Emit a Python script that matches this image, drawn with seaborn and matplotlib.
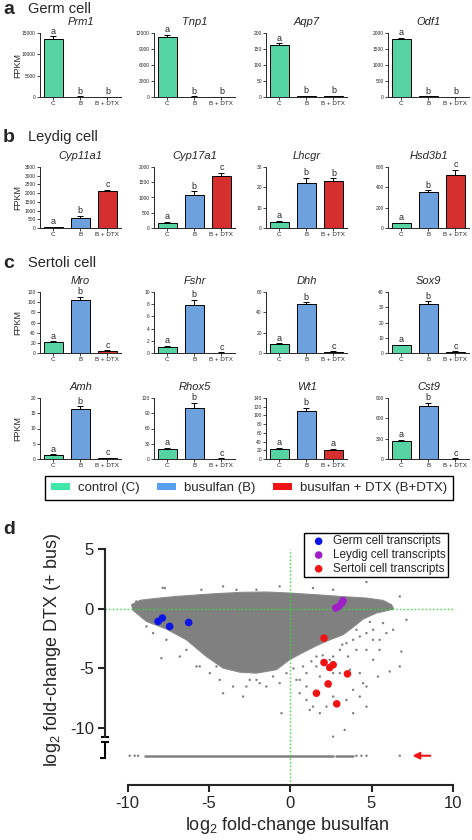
import numpy as np
import pandas as pd
import seaborn as sns
import matplotlib.pyplot as plt
from matplotlib.patches import Patch

# ---- bar panels (a-c) ----
groups = ['C', 'B', 'B + DTX']
group_colors = ['#40E8A8', '#5AA0F0', '#F01414']
legend_labels = ['control (C)', 'busulfan (B)', 'busulfan + DTX (B+DTX)']

genes = ['Prm1', 'Tnp1', 'Aqp7', 'Odf1',
         'Cyp11a1', 'Cyp17a1', 'Lhcgr', 'Hsd3b1',
         'Mro', 'Fshr', 'Dhh', 'Sox9',
         'Amh', 'Rhox5', 'Wt1', 'Cst9']
fpkm_mean = [[13600, 100, 30], [11200, 80, 40], [163, 3, 2], [1800, 20, 10],
             [60, 600, 2100], [160, 1070, 1700], [2.8, 22, 23.2], [45, 350, 520],
             [22, 104, 4], [1.05, 7.8, 0.05], [9, 48.5, 1], [5, 32, 0.8],
             [1.4, 16.5, 0.3], [20, 101, 0.8], [24, 110, 21], [265, 775, 5]]
fpkm_sem = [[600, 20, 10], [400, 20, 10], [5, 1, 1], [50, 5, 3],
            [20, 90, 100], [40, 130, 100], [0.6, 2.8, 1.3], [8, 20, 55],
            [1, 7, 1.5], [0.1, 0.9, 0.05], [0.6, 1.5, 0.5], [0.5, 2, 0.4],
            [0.2, 0.8, 0.1], [1.5, 10, 0.5], [2, 7, 2.5], [15, 50, 5]]
sig_letters = [['a', 'b', 'b'], ['a', 'b', 'b'], ['a', 'b', 'b'], ['a', 'b', 'b'],
               ['a', 'b', 'c'], ['a', 'b', 'c'], ['a', 'b', 'b'], ['a', 'b', 'c'],
               ['a', 'b', 'c'], ['a', 'b', 'c'], ['a', 'b', 'c'], ['a', 'b', 'c'],
               ['a', 'b', 'c'], ['a', 'b', 'c'], ['a', 'b', 'a'], ['a', 'b', 'c']]
y_max = [15000, 12000, 200, 2000, 3500, 2000, 30, 600,
         120, 10, 60, 40, 20, 120, 140, 900]
y_step = [5000, 3000, 50, 500, 500, 500, 10, 200,
          20, 2, 20, 10, 5, 30, 20, 300]
section_titles = [('a', 'Germ cell'), ('b', 'Leydig cell'), ('c', 'Sertoli cell')]

# ---- scatter panel (d) ----
germ_x = [-8.13, -7.87, -7.42, -6.25]
germ_y = [-1.06, -0.78, -1.48, -1.15]
leydig_x = [2.8, 3.0, 3.17, 3.25]
leydig_y = [0.06, 0.2, 0.47, 0.67]
sertoli_x = [2.08, 2.08, 2.43, 2.64, 3.52, 2.33, 1.61, 2.86]
sertoli_y = [-2.46, -4.5, -4.92, -4.69, -5.45, -6.29, -7.07, -7.96]

# outline of the dense bulk of transcripts
cloud_x = [-9.77, -9.26, -8.65, -7.0, -4.95, -3.1, -1.47, 0.01, 1.61, 3.05, 4.69, 5.71,
           6.23, 6.37, 5.30, 4.48, 3.87, 3.25, 2.43, 1.61, 0.79, 0.01, -0.85, -2.08,
           -3.1, -4.13, -5.16, -6.39, -7.62, -8.85, -9.67]
cloud_y = [0.34, 0.70, 0.81, 1.03, 1.23, 1.37, 1.40, 1.31, 1.17, 1.03, 0.89, 0.70,
           0.34, -0.03, -0.36, -0.87, -1.54, -2.18, -2.6, -3.1, -3.66, -4.22, -5.1, -5.39,
           -5.31, -4.97, -4.0, -2.6, -1.70, -1.06, -0.14]
# scattered transcripts outside the bulk
other_x = [-7.72, -5.47, -4.13, -3.31, -0.65, 4.69, 6.74, -9.47, -2.08, 1.40, 2.64,
           7.15, 6.33, 6.84, 6.74, 6.12, 5.40, 5.5, 5.92, 5.71, 5.1, 4.69, 5.1, 4.48,
           4.69, 4.28, 3.87, 3.87, 3.35, 2.64, 2.23, 1.82, 1.40, 1.0, 0.58, 0.38, -0.54,
           -1.06, -1.47, -2.08, -2.90, -3.52, -4.13, -4.95, -5.77, -6.8, -7.93, 3.05,
           3.56, 4.07, 2.64, 1.61, 1.0, 2.43, 1.82, 0.79, -0.23, 4.69, 3.46, 2.64, 1.2,
           -8.85, -8.44, -7.62, -6.39, -4.54, -2.49, -7.85,
           3.87, 4.28, 3.46, 4.69, 4.07, 3.05, 2.43, 1.61, 1.0, 2.64, 3.67, 4.28, 5.1,
           5.5, 0.58, -0.65, -1.88, -2.7, -4.34, -5.57, 4.9, 3.2, 2.0, 1.3, 0.2]
other_y = [1.73, 1.59, 1.87, 1.59, 1.87, 2.24, 1.03, 0.61, 1.59, 1.73, 1.59,
           -0.92, -1.76, -3.58, -4.83, -5.25, -5.67, -2.6, -2.04, -1.2, -1.76, -3.44,
           -4.27, -6.23, -8.19, -7.35, -6.79, -8.74, -10.14, -10.7, -8.19, -8.74, -8.19,
           -7.63, -7.07, -5.95, -8.74, -5.67, -6.51, -5.95, -7.35, -6.51, -7.07, -5.39,
           -4.83, -4.0, -4.14, -5.39, -4.0, -3.44, -4.0, -4.0, -6.51, -6.51, -5.67,
           -4.83, -5.39, -6.51, -7.63, -7.35, -8.47, -1.48, -2.04, -2.6, -3.44, -4.83,
           -5.95, 1.75,
           -2.6, -2.32, -2.88, -2.04, -1.76, -3.44, -4.27, -4.83, -5.39, -5.39, -5.11,
           -5.39, -2.6, -3.44, -5.95, -6.23, -6.23, -6.51, -5.95, -4.83, -1.1, -3.0,
           -3.9, -4.4, -5.0]
# transcripts undetected after DTX (plotted on the broken floor)
floor_y = -12.3
floor_runs_start = [-8.95, 2.84]
floor_runs_end = [2.64, 3.87]
floor_dots_x = [-9.88, -9.57, -9.36, 4.07, 4.38, 4.69, 6.74]
arrow_from_x, arrow_to_x = 8.79, 7.35

W, H = 472, 840
sns.set_style('ticks')
plt.rcParams['font.family'] = ['Liberation Sans', 'DejaVu Sans']
plt.rcParams['axes.unicode_minus'] = False

fig = plt.figure(figsize=(W / 100, H / 100), dpi=100)

row_tops = [33, 167, 292, 398]
row_bottoms = [97, 228, 353, 459]
col_lefts = [40, 154, 266, 388]
ax_w = 81

for i, gene in enumerate(genes):
    r, c = divmod(i, 4)
    ax = fig.add_axes([col_lefts[c] / W, 1 - row_bottoms[r] / H,
                       ax_w / W, (row_bottoms[r] - row_tops[r]) / H])
    df = pd.DataFrame({'group': groups, 'fpkm': fpkm_mean[i]})
    sns.barplot(data=df, x='group', y='fpkm', hue='group', palette=group_colors,
                legend=False, edgecolor='black', linewidth=0.7, width=0.7, ax=ax)
    ax.errorbar(range(3), fpkm_mean[i], yerr=[[0, 0, 0], fpkm_sem[i]], fmt='none',
                ecolor='black', elinewidth=0.7, capsize=2.5, capthick=0.7)
    for j in range(3):
        top = fpkm_mean[i][j] + fpkm_sem[i][j]
        ax.text(j, top + 0.01 * y_max[i], sig_letters[i][j], ha='center', va='bottom',
                fontsize=6.5)
    ax.set_xlim(-0.48, 2.5)
    ax.set_ylim(0, y_max[i])
    ax.set_yticks(np.arange(0, y_max[i] + y_step[i] / 2, y_step[i]))
    ax.set_title(gene, style='italic', fontsize=8, pad=5.5)
    ax.set_xlabel('')
    ax.set_ylabel('FPKM' if c == 0 else '', fontsize=6.5)
    ax.yaxis.set_label_coords(-0.22, 0.5)
    sns.despine(ax=ax)
    for s in ['left', 'bottom']:
        ax.spines[s].set_linewidth(0.7)
    ax.tick_params(axis='y', labelsize=3.5, length=2, width=0.6, pad=1)
    ax.tick_params(axis='x', labelsize=4.5, length=2, width=0.6, pad=1)

for (letter, title), y in zip(section_titles, [9, 137, 263]):
    fig.text(3 / W, 1 - y / H, letter, fontsize=14, weight='bold', va='center')
    fig.text(28 / W, 1 - y / H, title, fontsize=10.5, va='center')

handles = [Patch(facecolor=col, edgecolor='none') for col in group_colors]
fig.legend(handles, legend_labels, loc='center', bbox_to_anchor=(249 / W, 1 - 488 / H),
           ncol=3, fontsize=9.5, frameon=True, fancybox=False, edgecolor='black',
           framealpha=1, handlelength=1.45, handleheight=0.5, handletextpad=0.6,
           columnspacing=1.3, borderpad=0.45)

# ---- panel d ----
ax = fig.add_axes([105 / W, 1 - 785 / H, 351 / W, 238.4 / H])
ax.fill(cloud_x, cloud_y, color='#808080', lw=0.8, ec='#8a8a8a')
sns.scatterplot(x=other_x, y=other_y, color='#808080', s=3, edgecolor='none', ax=ax)
for x0, x1 in zip(floor_runs_start, floor_runs_end):
    ax.plot([x0, x1], [floor_y, floor_y], color='#808080', lw=1.8)
sns.scatterplot(x=floor_dots_x, y=[floor_y] * len(floor_dots_x), color='#808080', s=3,
                edgecolor='none', ax=ax)

ax.axhline(0, xmax=(10 + 11.4) / 21.6, color='#33DD33', ls=':', lw=1)
ax.axvline(0, ymax=(5 + 14.75) / 19.95, color='#33DD33', ls=':', lw=1)

sns.scatterplot(x=germ_x, y=germ_y, color='#0A14E6', s=30, edgecolor='none',
                label='Germ cell transcripts', ax=ax, zorder=5)
sns.scatterplot(x=leydig_x, y=leydig_y, color='#A020C8', s=30, edgecolor='none',
                label='Leydig cell transcripts', ax=ax, zorder=5)
sns.scatterplot(x=sertoli_x, y=sertoli_y, color='#F01414', s=30, edgecolor='none',
                label='Sertoli cell transcripts', ax=ax, zorder=5)

ax.annotate('', xy=(arrow_to_x, floor_y), xytext=(arrow_from_x, floor_y),
            arrowprops=dict(arrowstyle='-|>', color='#F01414', lw=1.5, mutation_scale=10))

ax.set_xlim(-11.4, 10.2)
ax.set_ylim(-14.75, 5.2)
ax.set_xticks([-10, -5, 0, 5, 10])
ax.set_yticks([-10, -5, 0, 5])
sns.despine(ax=ax)
ax.spines['left'].set_bounds(-10.75, 5)
ax.spines['bottom'].set_bounds(-10, 10)
for s in ['left', 'bottom']:
    ax.spines[s].set_linewidth(1.5)
ax.tick_params(labelsize=12, length=5, width=1.5, pad=3)

# broken y axis
trans = ax.get_yaxis_transform()
kw = dict(transform=trans, color='black', lw=1.5, clip_on=False, solid_capstyle='butt')
ax.plot([0, 0], [-11.15, -12.5], **kw)
ax.plot([-0.012, 0.012], [-10.75, -10.75], **kw)
ax.plot([-0.012, 0.012], [-11.15, -11.15], **kw)
ax.plot([-0.015, 0.002], [-12.5, -12.5], **kw)

ax.legend(loc='upper right', bbox_to_anchor=(0.977, 1.057), borderaxespad=0,
          fontsize=8.5, frameon=True, fancybox=False, edgecolor='black', framealpha=1,
          handletextpad=0.2, labelspacing=0.15, borderpad=0.2, markerscale=1.0)

fig.text(3 / W, 1 - 530 / H, 'd', fontsize=14, weight='bold', va='center')
fig.text(53 / W, 1 - 650 / H, r'log$_\mathregular{2}$ fold-change DTX (+ bus)',
         rotation=90, fontsize=13, ha='center', va='center')
fig.text(287 / W, 1 - 825 / H, r'log$_\mathregular{2}$ fold-change busulfan',
         fontsize=13, ha='center', va='center')

fig.savefig('out.png', dpi=100)
